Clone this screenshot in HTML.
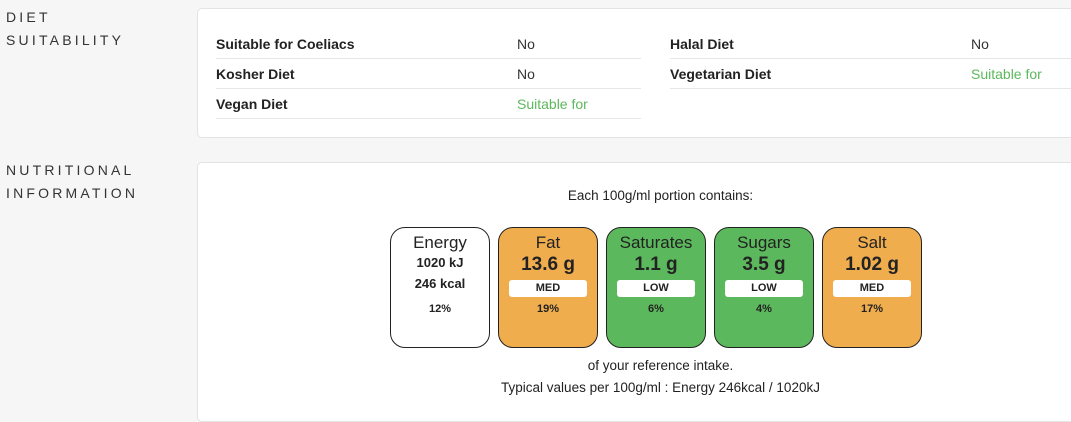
<!DOCTYPE html>
<html><head><meta charset="utf-8"><style>
*{box-sizing:border-box;margin:0;padding:0}
body{width:1071px;height:412px;background:#f6f6f6;font-family:"Liberation Sans",sans-serif;color:#222;position:relative;overflow:hidden}
.sec{position:absolute;left:6px;font-size:14px;letter-spacing:3.2px;line-height:23px;color:#333}
.panel{position:absolute;left:197px;width:890px;background:#fff;border:1px solid #e3e3e3;border-radius:5px}
.row{position:absolute;height:30px;border-bottom:1px solid #e6e6e6;font-size:14px}
.row b{position:absolute;left:0;top:7px}
.row span{position:absolute;left:301px;top:7px;color:#333}
.row span.g{color:#5cb85c}
.ctr{position:absolute;left:0;width:925px;text-align:center;font-size:13.5px;color:#222}
.box{position:absolute;top:64px;width:100px;height:121px;border:1px solid #222;border-radius:15px;text-align:center}
.box .t{font-size:17px;margin-top:5px;color:#222}
.box .v{font-size:19px;font-weight:bold;margin-top:1px}
.box .l{background:#fff;width:78px;height:17px;margin:4px auto 0;border-radius:3px;font-size:11px;font-weight:bold;line-height:17px}
.box .p{font-size:11px;font-weight:bold;margin-top:6px}
.o{background:#f0ad4e}.gr{background:#5cb85c}
</style></head><body>
<div class="sec" style="top:6px">DIET<br>SUITABILITY</div>
<div class="sec" style="top:159px">NUTRITIONAL<br>INFORMATION</div>
<div class="panel" style="top:8px;height:130px">
 <div class="row" style="left:18px;top:20px;width:425px"><b>Suitable for Coeliacs</b><span>No</span></div>
 <div class="row" style="left:18px;top:50px;width:425px"><b>Kosher Diet</b><span>No</span></div>
 <div class="row" style="left:18px;top:80px;width:425px"><b>Vegan Diet</b><span class="g">Suitable for</span></div>
 <div class="row" style="left:472px;top:20px;width:420px"><b>Halal Diet</b><span>No</span></div>
 <div class="row" style="left:472px;top:50px;width:420px"><b>Vegetarian Diet</b><span class="g">Suitable for</span></div>
</div>
<div class="panel" style="top:162px;height:260px">
 <div class="ctr" style="top:25px">Each 100g/ml portion contains:</div>
 <div class="box" style="left:192px"><div class="t">Energy</div><div style="font-size:13px;font-weight:bold;margin-top:2px">1020 kJ</div><div style="font-size:13px;font-weight:bold;margin-top:6px">246 kcal</div><div class="p" style="margin-top:12px">12%</div></div>
 <div class="box o" style="left:300px"><div class="t">Fat</div><div class="v">13.6 g</div><div class="l">MED</div><div class="p">19%</div></div>
 <div class="box gr" style="left:408px"><div class="t">Saturates</div><div class="v">1.1 g</div><div class="l">LOW</div><div class="p">6%</div></div>
 <div class="box gr" style="left:516px"><div class="t">Sugars</div><div class="v">3.5 g</div><div class="l">LOW</div><div class="p">4%</div></div>
 <div class="box o" style="left:624px"><div class="t">Salt</div><div class="v">1.02 g</div><div class="l">MED</div><div class="p">17%</div></div>
 <div class="ctr" style="top:195px">of your reference intake.</div>
 <div class="ctr" style="top:217px">Typical values per 100g/ml : Energy 246kcal / 1020kJ</div>
</div>
</body></html>
